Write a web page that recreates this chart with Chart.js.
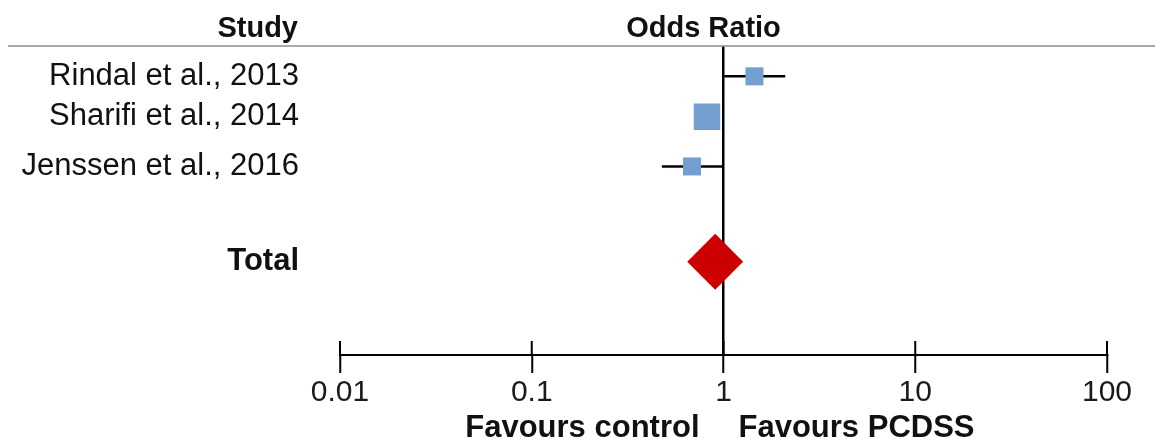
<!DOCTYPE html>
<html>
<head>
<meta charset="utf-8">
<title>Odds Ratio forest plot</title>
<script src="https://cdn.jsdelivr.net/npm/chart.js@4.4.1/dist/chart.umd.min.js"></script>
<style>
  html, body { margin: 0; padding: 0; background: #fff; }
</style>
</head>
<body>
<canvas id="forestChart" width="1155" height="439"></canvas>
<script>
// data
const studies = ['Rindal et al., 2013', 'Sharifi et al., 2014', 'Jenssen et al., 2016'];
const oddsRatio = [1.45, 0.82, 0.685];
const ciLower = [1.01, 0.74, 0.477];
const ciUpper = [2.10, 0.90, 1.0];
const weights = [24, 52, 24];          // study weight (%), sets the square size
const studyRows = [1.05, 1.97, 3.1];   // row position of each study

const totalLabel = 'Total';
const totalOR = 0.905;
const totalLower = 0.649;
const totalUpper = 1.27;
const totalRow = 5.27;

const tickValues = [0.01, 0.1, 1, 10, 100];

const FONT = 'Liberation Sans, Arial, sans-serif';
const TEXT = '#111';

const rowLabels = studies.concat([totalLabel]);
const rowValues = studyRows.concat([totalRow]);

// horizontal CI line for each study
const ciSets = studies.map((s, i) => ({
  type: 'line',
  label: s + ' CI',
  data: [{ x: ciLower[i], y: studyRows[i] }, { x: ciUpper[i], y: studyRows[i] }],
  borderColor: '#000',
  borderWidth: 2.5,
  pointRadius: 0,
  order: 2
}));

const squareSet = {
  type: 'scatter',
  label: 'Studies',
  data: oddsRatio.map((v, i) => ({ x: v, y: studyRows[i] })),
  pointStyle: 'rect',
  pointRadius: ctx => Math.sqrt(weights[ctx.dataIndex]) * 2.6,
  backgroundColor: '#729fcf',
  borderColor: '#729fcf',
  borderWidth: 0,
  order: 1
};

const totalSet = {
  type: 'scatter',
  label: totalLabel,
  data: [{ x: totalOR, y: totalRow }],
  pointStyle: 'rectRot',
  // half width of the diamond = half the pooled CI on the x scale
  pointRadius: ctx => {
    const xs = ctx.chart.scales.x;
    if (!xs) return 28;
    return (xs.getPixelForValue(totalUpper) - xs.getPixelForValue(totalLower)) / 2;
  },
  backgroundColor: '#cc0000',
  borderColor: '#cc0000',
  borderWidth: 0,
  order: 0
};

// headers, header rule, upper half of the tick marks, favours labels
const decorations = {
  id: 'decorations',
  afterDraw(chart) {
    const { ctx, chartArea } = chart;
    const xs = chart.scales.x;
    const one = xs.getPixelForValue(1);
    ctx.save();

    // upper part of the axis ticks
    ctx.strokeStyle = '#000';
    ctx.lineWidth = 2;
    xs.ticks.forEach(t => {
      const px = xs.getPixelForValue(t.value);
      ctx.beginPath();
      ctx.moveTo(px, chartArea.bottom - 14);
      ctx.lineTo(px, chartArea.bottom);
      ctx.stroke();
    });

    // header rule
    ctx.strokeStyle = '#8c8c8c';
    ctx.lineWidth = 1.5;
    ctx.beginPath();
    ctx.moveTo(8, chartArea.top);
    ctx.lineTo(chart.width, chartArea.top);
    ctx.stroke();

    ctx.fillStyle = TEXT;
    ctx.font = 'bold 29px ' + FONT;
    ctx.textBaseline = 'alphabetic';
    ctx.textAlign = 'right';
    ctx.fillText('Study', 298, 37);
    ctx.textAlign = 'center';
    ctx.fillText('Odds Ratio', one - 20, 37);

    ctx.font = 'bold 31px ' + FONT;
    ctx.textAlign = 'right';
    ctx.fillText('Favours control', one - 24, 437);
    ctx.textAlign = 'left';
    ctx.fillText('Favours PCDSS', one + 15, 437);
    ctx.restore();
  }
};

const config = {
  data: { datasets: ciSets.concat([squareSet, totalSet]) },
  options: {
    responsive: false,
    animation: false,
    layout: { padding: { top: 46, right: 48, bottom: 26, left: 0 } },
    plugins: {
      legend: { display: false },
      tooltip: { enabled: false }
    },
    scales: {
      x: {
        type: 'logarithmic',
        min: 0.01,
        max: 100,
        z: 1,
        afterBuildTicks: scale => {
          scale.ticks = tickValues.map(v => ({ value: v, major: true }));
        },
        ticks: {
          autoSkip: false,
          maxRotation: 0,
          padding: 2,
          color: '#1a1a1a',
          font: { family: FONT, size: 30 },
          callback: v => String(v)
        },
        grid: {
          drawOnChartArea: true,
          color: ctx => (ctx.tick && ctx.tick.value === 1 ? '#000' : 'rgba(0,0,0,0)'),
          lineWidth: 2.5,
          tickColor: '#000',
          tickLength: 18,
          tickWidth: 2
        },
        border: { display: true, color: '#000', width: 2 }
      },
      y: {
        type: 'linear',
        reverse: true,
        min: 0.36,
        max: 7.39,
        afterFit: scale => { scale.width = 340; },
        afterBuildTicks: scale => {
          scale.ticks = rowValues.map(v => ({ value: v }));
        },
        ticks: {
          autoSkip: false,
          padding: 2,
          color: TEXT,
          font: ctx => ({ family: FONT, size: 31, weight: ctx.index === rowLabels.length - 1 ? 'bold' : 'normal' }),
          callback: (v, i) => rowLabels[i]
        },
        // invisible tick marks keep the labels clear of the plot
        grid: { display: false, drawTicks: true, tickLength: 39, tickColor: 'rgba(0,0,0,0)' },
        border: { display: false }
      }
    }
  },
  plugins: [decorations]
};

const forestChart = new Chart(document.getElementById('forestChart'), config);
</script>
</body>
</html>
